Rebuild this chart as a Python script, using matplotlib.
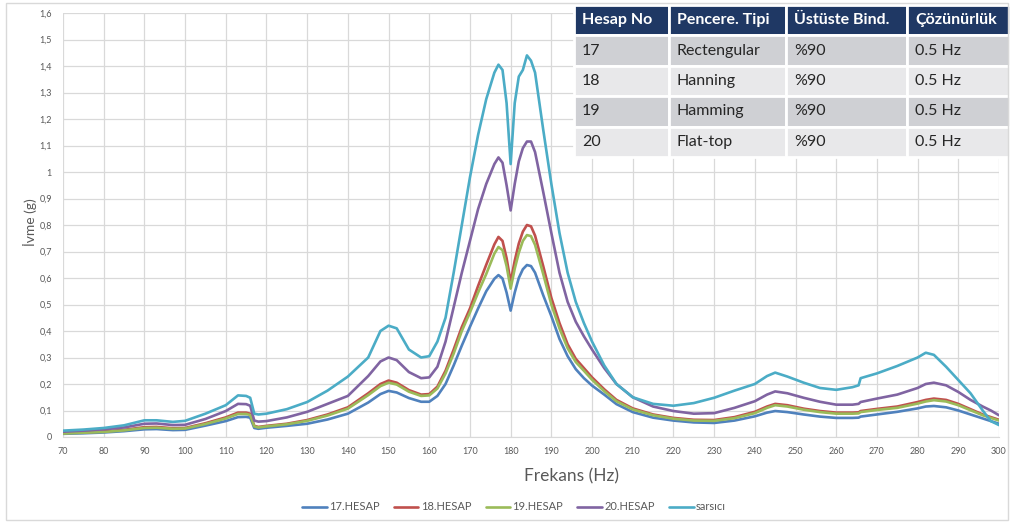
import matplotlib
matplotlib.use("Agg")
import matplotlib.pyplot as plt
from matplotlib.patches import Rectangle

plt.rcParams['font.family'] = ['Lato', 'DejaVu Sans']

freq = [70, 75, 80, 85, 90, 93, 97, 100, 105, 110, 113, 115, 116, 117, 118, 120,
        125, 130, 135, 140, 145, 148, 150, 152, 155, 158, 160, 162, 164, 166, 168,
        170, 172, 174, 176, 177, 178, 179, 180, 181, 182, 183, 184, 185, 186, 188,
        190, 192, 194, 196, 198, 200, 203, 206, 210, 215, 220, 225, 230, 235, 240,
        243, 245, 248, 252, 256, 260, 264, 265.5, 266, 270, 275, 280, 282, 284, 287,
        290, 293, 296, 298, 300]

hesap17 = [0.012, 0.014, 0.017, 0.022, 0.029, 0.030, 0.026, 0.027, 0.043, 0.060, 0.075, 0.076, 0.073, 0.034, 0.031, 0.035,
           0.042, 0.050, 0.066, 0.088, 0.130, 0.162, 0.174, 0.168, 0.147, 0.133, 0.133, 0.155, 0.200, 0.270, 0.345,
           0.416, 0.485, 0.550, 0.597, 0.611, 0.598, 0.545, 0.477, 0.545, 0.600, 0.633, 0.649, 0.645, 0.620, 0.535,
           0.456, 0.370, 0.305, 0.256, 0.222, 0.194, 0.160, 0.124, 0.094, 0.073, 0.062, 0.055, 0.053, 0.062, 0.078,
           0.092, 0.098, 0.094, 0.085, 0.077, 0.072, 0.072, 0.073, 0.077, 0.085, 0.095, 0.108, 0.115, 0.117, 0.112,
           0.100, 0.085, 0.070, 0.060, 0.050]

hesap18 = [0.015, 0.018, 0.021, 0.027, 0.037, 0.038, 0.033, 0.034, 0.052, 0.074, 0.092, 0.092, 0.088, 0.042, 0.038, 0.042,
           0.050, 0.064, 0.085, 0.112, 0.165, 0.200, 0.213, 0.205, 0.177, 0.160, 0.162, 0.190, 0.250, 0.330, 0.415,
           0.485, 0.570, 0.650, 0.727, 0.755, 0.740, 0.675, 0.585, 0.665, 0.730, 0.775, 0.800, 0.795, 0.760, 0.645,
           0.525, 0.430, 0.350, 0.295, 0.260, 0.225, 0.180, 0.140, 0.108, 0.085, 0.072, 0.065, 0.064, 0.075, 0.095,
           0.115, 0.125, 0.120, 0.107, 0.098, 0.092, 0.092, 0.093, 0.098, 0.106, 0.115, 0.132, 0.140, 0.145, 0.140,
           0.125, 0.105, 0.085, 0.075, 0.065]

hesap19 = [0.013, 0.016, 0.019, 0.025, 0.034, 0.035, 0.031, 0.032, 0.049, 0.070, 0.087, 0.087, 0.083, 0.040, 0.036, 0.040,
           0.048, 0.061, 0.081, 0.107, 0.158, 0.192, 0.205, 0.198, 0.171, 0.155, 0.157, 0.183, 0.240, 0.315, 0.400,
           0.470, 0.545, 0.615, 0.692, 0.717, 0.705, 0.645, 0.560, 0.635, 0.695, 0.740, 0.762, 0.758, 0.725, 0.615,
           0.500, 0.410, 0.335, 0.283, 0.250, 0.216, 0.173, 0.135, 0.104, 0.082, 0.069, 0.062, 0.061, 0.071, 0.090,
           0.110, 0.120, 0.115, 0.103, 0.094, 0.088, 0.088, 0.089, 0.094, 0.102, 0.110, 0.126, 0.134, 0.139, 0.134,
           0.120, 0.101, 0.082, 0.072, 0.062]

hesap20 = [0.020, 0.024, 0.029, 0.036, 0.050, 0.051, 0.045, 0.046, 0.068, 0.098, 0.125, 0.124, 0.118, 0.062, 0.058, 0.060,
           0.074, 0.095, 0.125, 0.155, 0.230, 0.285, 0.300, 0.290, 0.245, 0.222, 0.225, 0.265, 0.360, 0.490, 0.620,
           0.740, 0.860, 0.955, 1.030, 1.055, 1.035, 0.950, 0.855, 0.955, 1.040, 1.090, 1.115, 1.115, 1.075, 0.925,
           0.770, 0.620, 0.510, 0.435, 0.380, 0.330, 0.260, 0.200, 0.150, 0.115, 0.098, 0.088, 0.090, 0.110, 0.135,
           0.160, 0.172, 0.165, 0.148, 0.133, 0.122, 0.122, 0.125, 0.132, 0.145, 0.160, 0.185, 0.200, 0.205, 0.195,
           0.170, 0.140, 0.115, 0.100, 0.082]

sarsici = [0.024, 0.028, 0.034, 0.044, 0.063, 0.063, 0.057, 0.061, 0.088, 0.120, 0.157, 0.155, 0.148, 0.088, 0.085, 0.088,
           0.105, 0.132, 0.175, 0.228, 0.300, 0.400, 0.420, 0.410, 0.330, 0.300, 0.305, 0.360, 0.450, 0.620, 0.800,
           0.980, 1.140, 1.275, 1.375, 1.405, 1.385, 1.260, 1.030, 1.260, 1.360, 1.385, 1.440, 1.420, 1.375, 1.160,
           0.955, 0.770, 0.620, 0.510, 0.430, 0.360, 0.270, 0.200, 0.150, 0.125, 0.118, 0.128, 0.148, 0.175, 0.200,
           0.230, 0.243, 0.228, 0.205, 0.185, 0.178, 0.188, 0.195, 0.222, 0.240, 0.268, 0.300, 0.318, 0.310, 0.265,
           0.215, 0.165, 0.100, 0.060, 0.045]

series_names = ['17.HESAP', '18.HESAP', '19.HESAP', '20.HESAP', 'sarsıcı']
series_colors = ['#4F81BD', '#C0504D', '#9BBB59', '#8064A2', '#4BACC6']

x_ticks = list(range(70, 301, 10))
y_ticks = [i / 10 for i in range(0, 17)]
y_tick_labels = ['0', '0,1', '0,2', '0,3', '0,4', '0,5', '0,6', '0,7', '0,8', '0,9',
                 '1', '1,1', '1,2', '1,3', '1,4', '1,5', '1,6']

table_header = ['Hesap No', 'Pencere. Tipi', 'Üstüste Bind.', 'Çözünürlük']
table_rows = [['17', 'Rectengular', '%90', '0.5 Hz'],
              ['18', 'Hanning', '%90', '0.5 Hz'],
              ['19', 'Hamming', '%90', '0.5 Hz'],
              ['20', 'Flat-top', '%90', '0.5 Hz']]

W, H = 1012, 524
fig = plt.figure(figsize=(W / 100, H / 100), dpi=100)
fig.patch.set_facecolor('white')

# outer chart border
fig.patches.append(Rectangle((6 / W, 1 - 520 / H), 1002 / W, 517 / H,
                             transform=fig.transFigure, fill=False,
                             edgecolor='#D9D9D9', linewidth=1))

ax = fig.add_axes([63 / W, 1 - 437 / H, 936 / W, 424 / H])
data = [hesap17, hesap18, hesap19, hesap20, sarsici]
for vals, name, col in zip(data, series_names, series_colors):
    ax.plot(freq, vals, color=col, linewidth=1.9, label=name,
            solid_joinstyle='round', solid_capstyle='round')

ax.set_xlim(70, 300)
ax.set_ylim(0, 1.6)
ax.set_xticks(x_ticks)
ax.set_yticks(y_ticks)
ax.set_yticklabels(y_tick_labels)
ax.grid(True, color='#D9D9D9', linewidth=0.9)
ax.set_axisbelow(True)
for s in ['top', 'right', 'left']:
    ax.spines[s].set_visible(False)
ax.spines['bottom'].set_color('#D9D9D9')
ax.tick_params(length=0, labelsize=6.5, labelcolor='#595959')
ax.tick_params(axis='x', pad=7)
ax.tick_params(axis='y', pad=8)

fig.text(30 / W, 1 - 222 / H, 'İvme (g)', rotation=90, ha='center', va='center',
         fontsize=10, color='#595959')
fig.text(572 / W, 1 - 476 / H, 'Frekans (Hz)', ha='center', va='center',
         fontsize=12.5, color='#595959')

leg = fig.legend(loc='center', bbox_to_anchor=(514 / W, 1 - 507 / H), ncol=5,
                 frameon=False, fontsize=8, handlelength=2.2, handletextpad=0.2,
                 columnspacing=1.3)
for t in leg.get_texts():
    t.set_color('#595959')

# table in the upper right
tax = fig.add_axes([574 / W, 1 - 157 / H, 436 / W, 152 / H])
tax.axis('off')
col_px = [95, 117, 121, 103]
tbl = tax.table(cellText=table_rows, colLabels=table_header, cellLoc='left',
                colLoc='left', colWidths=[c / sum(col_px) for c in col_px],
                bbox=[0, 0, 1, 1])
tbl.auto_set_font_size(False)
row_colors = ['#CFD0D4', '#E8E8EA', '#CFD0D4', '#E8E8EA']
for (r, c), cell in tbl.get_celld().items():
    cell.set_edgecolor('white')
    cell.set_linewidth(2)
    cell.PAD = 8 / col_px[c]
    txt = cell.get_text()
    if r == 0:
        cell.set_facecolor('#1F3864')
        txt.set_color('white')
        txt.set_fontweight('bold')
        txt.set_fontsize(11.5)
    else:
        cell.set_facecolor(row_colors[r - 1])
        txt.set_color('#262626')
        txt.set_fontsize(11.5)

fig.savefig('out.png', dpi=100)
